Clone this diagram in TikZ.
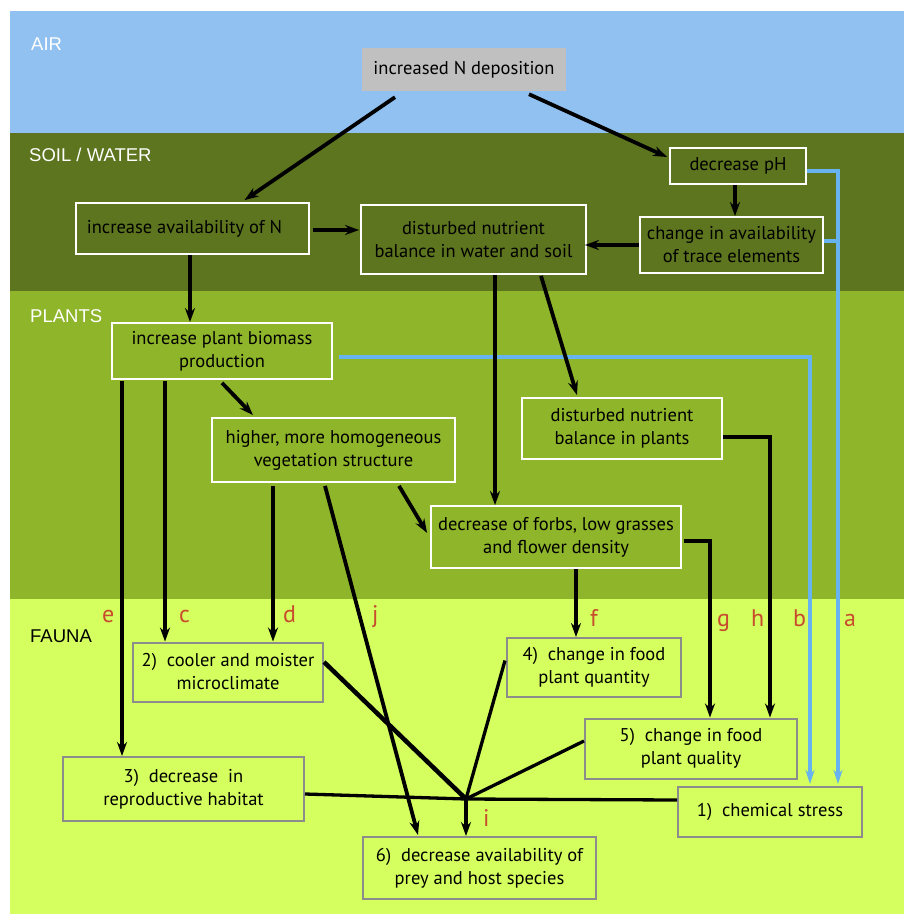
\documentclass[tikz,border=0pt]{standalone}
\usepackage{fontspec}
\setmainfont{PT Sans}
\newfontfamily\lblfont{Liberation Sans}
\usetikzlibrary{arrows.meta,calc}
\definecolor{aircol}{HTML}{91C1F0}
\definecolor{soilcol}{HTML}{5D751F}
\definecolor{plantcol}{HTML}{8FB52A}
\definecolor{faunacol}{HTML}{D4FF5E}
\definecolor{depcol}{HTML}{C0C0C0}
\definecolor{graybd}{HTML}{8C8C8C}
\definecolor{bluecol}{HTML}{66B3F0}
\definecolor{lettercol}{HTML}{C84B2D}
\newcommand\bxfont{\fontsize{18.5}{23}\selectfont}
\begin{document}
\begin{tikzpicture}[x=1pt,y=-1pt,
  upbox/.style={draw=white,line width=1.8pt,rectangle,align=center,inner sep=0pt,font=\bxfont},
  fabox/.style={draw=graybd,line width=2pt,rectangle,align=center,inner sep=0pt,font=\bxfont},
  depbox/.style={fill=depcol,rectangle,align=center,inner sep=0pt,font=\bxfont},
  band/.style={anchor=base west,inner sep=0pt,font=\lblfont\fontsize{18.5}{20}\selectfont,text=white},
  letter/.style={anchor=base west,inner sep=0pt,font=\fontsize{24}{26}\selectfont,text=lettercol},
  arr/.style={line width=3.8pt,-{Stealth[length=14pt,width=10pt]}},
  conv/.style={line width=3.3pt},
  barr/.style={draw=bluecol,line width=3.5pt,-{Stealth[length=14pt,width=9pt]}},
  bline/.style={draw=bluecol,line width=3.5pt}]
\useasboundingbox (0,0) rectangle (904,914);
\fill[white] (0,0) rectangle (904,914);
\fill[aircol] (10,11) rectangle (904,133);
\fill[soilcol] (10,133) rectangle (904,291);
\fill[plantcol] (10,291) rectangle (904,599);
\fill[faunacol] (10,599) rectangle (904,914);

% band labels
\node[band] (lair) at (31,50) {AIR};
\node[band] (lsoil) at (29,161.5) {SOIL / WATER};
\node[band] (lplant) at (30,322) {PLANTS};
\node[band,text=black] (lfauna) at (30,642) {FAUNA};

% boxes
\node[depbox,minimum width=204pt,minimum height=43pt] (ndep) at (464,69.5) {increased N deposition};
\node[upbox,minimum width=136pt,minimum height=36pt] (ph) at (738,166) {decrease pH};
\node[upbox,minimum width=183pt,minimum height=56pt] (trace) at (731.5,245) {change in availability\\of trace elements};
\node[upbox,minimum width=233pt,minimum height=51pt] (availN) at (192.5,228.5) {increase availability of N\hspace*{16pt}};
\node[upbox,minimum width=225pt,minimum height=69pt] (nutws) at (473.5,239.5) {disturbed nutrient\\balance in water and soil};
\node[upbox,minimum width=220pt,minimum height=56pt] (biomass) at (222,351) {increase plant biomass\\production};
\node[upbox,minimum width=243pt,minimum height=64pt] (veg) at (333.5,450) {higher, more homogeneous\\vegetation structure};
\node[upbox,minimum width=200pt,minimum height=61pt] (nutpl) at (622,428.5) {disturbed nutrient\\balance in plants};
\node[upbox,minimum width=250pt,minimum height=62pt] (forbs) at (556,537) {decrease of forbs, low grasses\\and flower density};
\node[fabox,minimum width=174pt,minimum height=59pt] (quant) at (594,667.5) {4)\ \ change in food\\plant quantity};
\node[fabox,minimum width=212pt,minimum height=60pt] (qual) at (691,748.5) {5)\ \ change in food\\plant quality};
\node[fabox,minimum width=184pt,minimum height=50pt] (chem) at (770,812) {1)\ \ chemical stress};
\node[fabox,minimum width=190pt,minimum height=59pt] (cool) at (228,672) {2)\ \ cooler and moister\\microclimate};
\node[fabox,minimum width=241pt,minimum height=64pt] (repro) at (183.5,789) {3)\ \ decrease\ \ in\\reproductive habitat};
\node[fabox,minimum width=233pt,minimum height=62pt] (prey) at (479.5,868) {6)\ \ decrease availability of\\prey and host species};

% blue connectors
\coordinate (bend) at ([xshift=40pt,yshift=2pt]chem.north);
\coordinate (aend) at ([xshift=68pt,yshift=2pt]chem.north);
\draw[barr] ([xshift=6pt,yshift=-6pt]biomass.east) -| (bend);
\draw[barr] ([yshift=-5pt]ph.east) -| (aend);
\draw[bline] ([yshift=4pt]trace.east) -- ([yshift=4pt]trace.east -| aend);

% black connectors
\draw[arr] ([xshift=-69pt,yshift=-6pt]ndep.south) -- ([xshift=52pt,yshift=2pt]availN.north);
\draw[arr] ([xshift=65pt,yshift=-3pt]ndep.south) -- ([xshift=-2pt,yshift=9pt]ph.west);
\draw[arr] ([xshift=-3pt]ph.south) -- ([xshift=-3pt]ph.south |- trace.north);
\draw[arr] (trace.west) -- ([xshift=-2pt]trace.west -| nutws.east);
\draw[arr] ([xshift=3pt,yshift=-1.5pt]availN.east) -- ([xshift=-1pt,yshift=-1.5pt]availN.east -| nutws.west);
\draw[arr] ([xshift=-2.5pt]availN.south) -- ([xshift=-2.5pt]availN.south |- biomass.north);
\draw[arr] ([xshift=21.5pt]nutws.south) -- ([xshift=21.5pt]nutws.south |- forbs.north);
\draw[arr] ([xshift=67.5pt,yshift=-1pt]nutws.south) -- ([xshift=-45pt,yshift=2pt]nutpl.north);
\draw[arr] ([yshift=-3pt]biomass.south) -- ([xshift=-80.5pt,yshift=2pt]veg.north);
\draw[arr] ([xshift=-100pt,yshift=-1pt]biomass.south) -- ([xshift=-100pt]biomass.south |- repro.north);
\draw[arr] ([xshift=-57pt,yshift=-1pt]biomass.south) -- ([xshift=-57pt]biomass.south |- cool.north);
\draw[arr] ([xshift=-60.5pt,yshift=-3pt]veg.south) -- ([xshift=-60.5pt]veg.south |- cool.north);
\draw[arr] ([xshift=-8.5pt,yshift=-3pt]veg.south) -- ([xshift=-61.5pt,yshift=1pt]prey.north);
\draw[arr] ([xshift=65.5pt,yshift=-3pt]veg.south) -- ([xshift=-3pt,yshift=4pt]forbs.west);
\draw[arr] ([xshift=20pt]forbs.south) -- ([xshift=20pt]forbs.south |- quant.north);
\draw[arr] ([xshift=2pt,yshift=-4pt]forbs.east) -| ([xshift=19pt]qual.north);
\draw[arr] ([yshift=-8.5pt]nutpl.east) -| ([xshift=79pt]qual.north);

% convergence i
\coordinate (i) at (466,799);
\draw[line width=4.5pt] ([yshift=10pt]cool.east) -- (i);
\draw[conv] ([xshift=-1pt,yshift=7pt]quant.west) -- (i);
\draw[conv] ([yshift=7.5pt]qual.west) -- (i);
\draw[conv] ([yshift=-5pt]repro.east) -- (i);
\draw[conv] ([yshift=12pt]chem.west) -- (i);
\draw[arr] (i) -- (i |- prey.north);

% letters
\node[letter] (le) at (102,622) {e};
\node[letter] (lc) at (179,622) {c};
\node[letter] (ld) at (283,622) {d};
\node[letter] (lj) at (372,622) {j};
\node[letter] (lf) at (590,626) {f};
\node[letter] (lg) at (717,626) {g};
\node[letter] (lh) at (751,626) {h};
\node[letter] (lb) at (793,626) {b};
\node[letter] (la) at (844,626) {a};
\node[letter] (li) at (483,826) {i};
\end{tikzpicture}
\end{document}
